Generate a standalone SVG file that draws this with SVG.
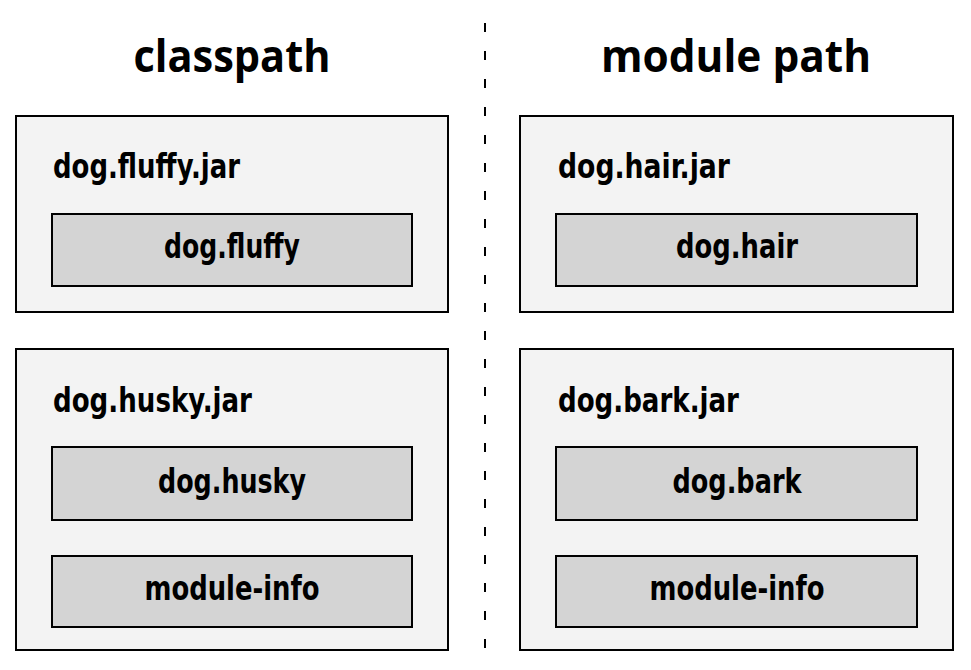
<svg xmlns="http://www.w3.org/2000/svg" width="971" height="670" viewBox="0 0 971 670">
<style>
.outer{fill:#f3f3f3;stroke:#000;stroke-width:2}
.inner{fill:#d4d4d4;stroke:#000;stroke-width:2}
.title{font-family:"Open Sans","Noto Sans",sans-serif;font-weight:bold;font-size:44px;fill:#000}
.lbl{font-family:"Liberation Sans Narrow","DejaVu Sans Condensed","Liberation Sans",sans-serif;font-weight:bold;font-size:33px;fill:#000}
.c{text-anchor:middle}
</style>
<rect width="971" height="670" fill="#fff"/>
<g id="titles">
<text class="title c" x="232" y="72" textLength="197" lengthAdjust="spacingAndGlyphs">classpath</text>
<text class="title c" x="736" y="72" textLength="270" lengthAdjust="spacingAndGlyphs">module path</text>
</g>
<g id="connectors">
<line x1="485" y1="23" x2="485" y2="662" stroke="#000" stroke-width="2" stroke-dasharray="9 19"/>
</g>
<g id="dog-fluffy-jar">
<rect class="outer" x="16" y="116" width="432" height="196"/>
<text class="lbl" x="53" y="178" textLength="187" lengthAdjust="spacingAndGlyphs">dog.fluffy.jar</text>
<g id="dog-fluffy">
<rect class="inner" x="52" y="214" width="360" height="72"/>
<text class="lbl c" x="232" y="258" textLength="136" lengthAdjust="spacingAndGlyphs">dog.fluffy</text>
</g>
</g>
<g id="dog-husky-jar">
<rect class="outer" x="16" y="349" width="432" height="301"/>
<text class="lbl" x="53" y="412" textLength="199" lengthAdjust="spacingAndGlyphs">dog.husky.jar</text>
<g id="dog-husky">
<rect class="inner" x="52" y="447" width="360" height="73"/>
<text class="lbl c" x="232" y="493" textLength="148" lengthAdjust="spacingAndGlyphs">dog.husky</text>
</g>
<g id="module-info-left">
<rect class="inner" x="52" y="556" width="360" height="71"/>
<text class="lbl c" x="232" y="600" textLength="175" lengthAdjust="spacingAndGlyphs">module-info</text>
</g>
</g>
<g id="dog-hair-jar">
<rect class="outer" x="520" y="116" width="433" height="196"/>
<text class="lbl" x="558" y="178" textLength="172" lengthAdjust="spacingAndGlyphs">dog.hair.jar</text>
<g id="dog-hair">
<rect class="inner" x="556" y="214" width="361" height="72"/>
<text class="lbl c" x="737" y="258" textLength="122" lengthAdjust="spacingAndGlyphs">dog.hair</text>
</g>
</g>
<g id="dog-bark-jar">
<rect class="outer" x="520" y="349" width="433" height="301"/>
<text class="lbl" x="558" y="412" textLength="181" lengthAdjust="spacingAndGlyphs">dog.bark.jar</text>
<g id="dog-bark">
<rect class="inner" x="556" y="447" width="361" height="73"/>
<text class="lbl c" x="737" y="493" textLength="129" lengthAdjust="spacingAndGlyphs">dog.bark</text>
</g>
<g id="module-info-right">
<rect class="inner" x="556" y="556" width="361" height="71"/>
<text class="lbl c" x="737" y="600" textLength="175" lengthAdjust="spacingAndGlyphs">module-info</text>
</g>
</g>
</svg>
